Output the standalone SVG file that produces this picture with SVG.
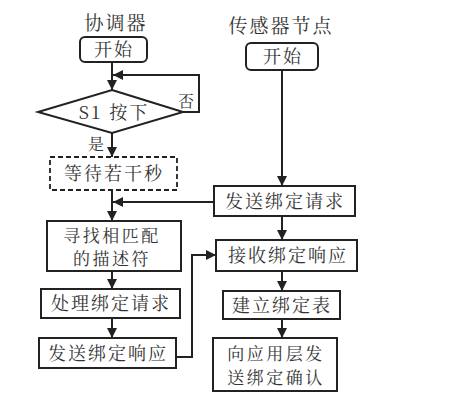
<svg xmlns="http://www.w3.org/2000/svg" width="455" height="409" viewBox="0 0 455 409">
<defs>
<marker id="ah" viewBox="0 0 10 10" refX="10" refY="5" markerWidth="10" markerHeight="10" markerUnits="userSpaceOnUse" orient="auto">
<path d="M0,0 L10,5 L0,10 Z" fill="#222"/>
</marker>
<style>
.b{fill:#fff;stroke:#222;stroke-width:2}
.d{fill:#fff;stroke:#222;stroke-width:1.8;stroke-dasharray:5,3}
.c{fill:none;stroke:#222;stroke-width:2;marker-end:url(#ah)}
text{font-family:"Noto Serif CJK SC","Noto Sans CJK SC",serif;font-size:18px;fill:#333;text-anchor:middle;letter-spacing:2px}
.t{font-size:19px}
.s{font-size:16px;letter-spacing:0}
.m{font-size:17px;letter-spacing:2.5px}
</style>
</defs>
<rect width="455" height="409" fill="#fff"/>
<g id="connectors">
<line class="c" x1="112" y1="62" x2="112" y2="90"/>
<polyline class="c" points="183,112 199,112 199,75 113,75"/>
<line class="c" x1="112" y1="133" x2="112" y2="157"/>
<line class="c" x1="112" y1="190" x2="112" y2="221"/>
<line class="c" x1="214" y1="202" x2="113" y2="202"/>
<line class="c" x1="112" y1="271" x2="112" y2="289"/>
<line class="c" x1="112" y1="318" x2="112" y2="338"/>
<polyline class="c" points="176,357 192,357 192,255 216,255"/>
<line class="c" x1="282" y1="70" x2="282" y2="186"/>
<line class="c" x1="282" y1="216" x2="282" y2="240"/>
<line class="c" x1="282" y1="271" x2="282" y2="291"/>
<line class="c" x1="282" y1="319" x2="282" y2="338"/>
</g>
<g id="title-coordinator"><text class="t" x="116" y="30">协调器</text></g>
<g id="title-sensor"><text class="t" x="281" y="33">传感器节点</text></g>
<g id="c-start"><rect class="b" x="80" y="37" width="67" height="25" rx="5"/><text x="114" y="56">开始</text></g>
<g id="c-decision"><polygon class="b" points="112,90 183,112 112,133 38,112"/><text x="114" y="119" letter-spacing="1">S1 按下</text></g>
<g id="label-no"><text class="s" x="186" y="107">否</text></g>
<g id="label-yes"><text class="s" x="96" y="150">是</text></g>
<g id="c-wait"><rect class="d" x="50" y="157" width="127" height="33"/><text x="114" y="180">等待若干秒</text></g>
<g id="c-find"><rect class="b" x="47" y="221" width="134" height="50"/><text class="m" x="112" y="242">寻找相匹配</text><text class="m" x="112" y="265">的描述符</text></g>
<g id="c-process"><rect class="b" x="41" y="289" width="139" height="29"/><text x="111" y="310">处理绑定请求</text></g>
<g id="c-send"><rect class="b" x="39" y="338" width="137" height="30"/><text x="108" y="360">发送绑定响应</text></g>
<g id="s-start"><rect class="b" x="246" y="43" width="72" height="27" rx="5"/><text x="283" y="63">开始</text></g>
<g id="s-send"><rect class="b" x="214" y="186" width="141" height="30"/><text x="285" y="208">发送绑定请求</text></g>
<g id="s-recv"><rect class="b" x="216" y="240" width="141" height="31"/><text x="288" y="262">接收绑定响应</text></g>
<g id="s-table"><rect class="b" x="223" y="291" width="117" height="28"/><text x="282" y="312">建立绑定表</text></g>
<g id="s-confirm"><rect class="b" x="213" y="338" width="124" height="53"/><text class="m" x="276" y="360">向应用层发</text><text class="m" x="276" y="384">送绑定确认</text></g>
</svg>
